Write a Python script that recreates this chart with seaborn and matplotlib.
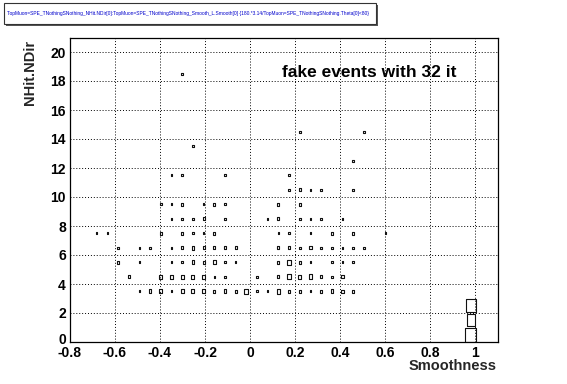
import numpy as np
import pandas as pd
import matplotlib
matplotlib.use("Agg")
import matplotlib.pyplot as plt
import matplotlib.transforms as mtransforms
from matplotlib.path import Path
from matplotlib.patches import Rectangle
import seaborn as sns

# ---------------- data (TH2 box plot, 40 x-bins on [-0.8,1.1], 21 y-bins on [0,21]) -------------
x_lo, x_hi, x_nbins = -0.8, 1.1, 40
y_lo, y_hi, y_nbins = 0, 21, 21

# x bin index of each filled cell, its NHit.NDir value, and its content
smooth_bin = (
    list(range(6, 27))
    + [5, 8, 9, 10, 11, 12, 13, 14, 17, 19, 20, 21, 22, 23, 24, 25]
    + [4, 6, 9, 10, 11, 12, 13, 14, 15, 19, 20, 21, 22, 24, 25, 26]
    + [4, 6, 7, 9, 10, 11, 12, 13, 14, 15, 19, 20, 21, 22, 23, 24, 25, 26, 27]
    + [2, 3, 8, 10, 11, 12, 13, 19, 20, 22, 24, 26, 29]
    + [9, 10, 11, 12, 14, 18, 19, 21, 22, 23, 25]
    + [8, 9, 10, 12, 13, 14, 19, 21]
    + [20, 21, 22, 23, 26]
    + [9, 10, 14, 20]
    + [26]
    + [11]
    + [21, 27]
    + [10]
    + [37, 37, 37]
)
ndir_value = (
    [3.5] * 21 + [4.5] * 16 + [5.5] * 16 + [6.5] * 19 + [7.5] * 13 + [8.5] * 11
    + [9.5] * 8 + [10.5] * 5 + [11.5] * 4 + [12.5] + [13.5] + [14.5] * 2 + [18.5]
    + [0.5, 1.5, 2.5]
)
counts = (
    [1, 3, 4, 1, 4, 4, 3, 2, 3, 2, 6, 1, 1, 5, 2, 2, 1, 2, 3, 2, 2]
    + [2, 4, 4, 4, 4, 3, 1, 1, 1, 2, 6, 4, 6, 2, 1, 2]
    + [2, 1, 1, 1, 3, 2, 4, 1, 1, 2, 6, 2, 1, 1, 1, 1]
    + [1, 1, 1, 1, 2, 3, 2, 2, 2, 2, 2, 2, 1, 2, 1, 1, 1, 1, 1]
    + [1, 1, 2, 2, 1, 1, 2, 1, 1, 1, 2, 2, 1]
    + [1, 1, 1, 2, 1, 1, 2, 1, 1, 1, 1]
    + [1, 1, 2, 1, 2, 1, 2, 2]
    + [1, 2, 1, 1, 1]
    + [1, 1, 1, 1]
    + [1]
    + [1]
    + [1, 1]
    + [1]
    + [50, 32, 40]
)

title_text = ("TopMuon=SPE_TNothingSNothing_NHit.NDir[0]:TopMuon=SPE_TNothingSNothing_Smooth_L.Smooth[0] "
              "{180.*3.14/TopMuon=SPE_TNothingSNothing.Theta[0]<80}")
x_ticks = [-0.8, -0.6, -0.4, -0.2, 0, 0.2, 0.4, 0.6, 0.8, 1.0]
x_tick_labels = ["-0.8", "-0.6", "-0.4", "-0.2", "0", "0.2", "0.4", "0.6", "0.8", "1"]
y_ticks = list(range(0, 21, 2))
y_tick_labels = [str(v) for v in y_ticks]

# ---------------- build frame ----------------
bin_w = (x_hi - x_lo) / x_nbins
df = pd.DataFrame({
    "Smoothness": [x_lo + bin_w * (b + 0.5) for b in smooth_bin],
    "NHit.NDir": ndir_value,
    "count": counts,
})

sns.set_style("white")
plt.rcParams["font.family"] = ["Liberation Sans", "DejaVu Sans"]
plt.rcParams["font.weight"] = "bold"

W, H = 567, 384
fig = plt.figure(figsize=(W / 100, H / 100), dpi=100)
fig.patch.set_facecolor("white")
ax = fig.add_axes([70 / W, 42 / H, 427.5 / W, 304.5 / H])

# rectangular marker with the aspect of one bin on screen
bw_px = 427.5 / x_nbins
bh_px = 304.5 / y_nbins
hw = 0.5 * bw_px / bh_px
rect = Path([(-hw, -0.5), (hw, -0.5), (hw, 0.5), (-hw, 0.5), (-hw, -0.5)],
            [Path.MOVETO, Path.LINETO, Path.LINETO, Path.LINETO, Path.CLOSEPOLY])
full = (bh_px * 72 / 100) ** 2  # area (pt^2) that fills one bin
cmax = max(counts)

sns.scatterplot(data=df, x="Smoothness", y="NHit.NDir", size="count",
                size_norm=(0, cmax), sizes=(0, full), marker=rect,
                facecolor="none", edgecolor="#111111", linewidth=0.8,
                legend=False, ax=ax, zorder=3)

ax.set_xlim(x_lo, x_hi)
ax.set_ylim(y_lo, y_hi)
ax.set_xticks(x_ticks)
ax.set_xticklabels(x_tick_labels)
ax.set_yticks(y_ticks)
ax.set_yticklabels(y_tick_labels)
ax.set_xticks(np.arange(-0.8, 1.1001, 0.05), minor=True)
ax.set_yticks(np.arange(0, 21.001, 0.5), minor=True)
ax.tick_params(axis="both", which="major", direction="in", length=9, width=0.8,
               labelsize=10, colors="black", pad=3, top=False, right=False)
ax.tick_params(axis="both", which="minor", direction="in", length=4.5, width=0.8,
               top=False, right=False)
for lab in ax.get_xticklabels() + ax.get_yticklabels():
    lab.set_fontweight("bold")
# lift the y "0" label a little so it does not sit on the "-0.8" label
ylabs = ax.get_yticklabels()
ylabs[0].set_transform(ylabs[0].get_transform()
                       + mtransforms.ScaledTranslation(0, 4 / 100, fig.dpi_scale_trans))
ax.grid(True, which="major", color="black", linestyle=(0, (1, 2)), linewidth=0.7)
for sp in ax.spines.values():
    sp.set_color("black")
    sp.set_linewidth(0.9)

ax.set_xlabel("")
ax.set_ylabel("")
fig.text(497 / W, 1 - 366 / H, "Smoothness", ha="right", va="center",
         fontsize=10.5, fontweight="bold")
fig.text(30 / W, 1 - 40 / H, "NHit.NDir", ha="center", va="top", rotation=90,
         fontsize=10.5, fontweight="bold")
fig.text(282 / W, 1 - 77 / H, "fake events with 32 it", ha="left", va="baseline",
         fontsize=12.5, fontweight="bold", color="black")

# ROOT-like title pave with shadow
fig.patches.append(Rectangle((6 / W, 1 - 25.5 / H), 372 / W, 21 / H, transform=fig.transFigure,
                             facecolor="#555555", edgecolor="none", zorder=1))
fig.patches.append(Rectangle((4 / W, 1 - 24 / H), 372 / W, 21 / H, transform=fig.transFigure,
                             facecolor="white", edgecolor="#333333", linewidth=0.8, zorder=2))
fig.text(7 / W, 1 - 13.5 / H, title_text, ha="left", va="center", fontsize=3.5,
         color="#0000cc", fontweight="normal", zorder=3)

fig.savefig("out.png", dpi=100)
